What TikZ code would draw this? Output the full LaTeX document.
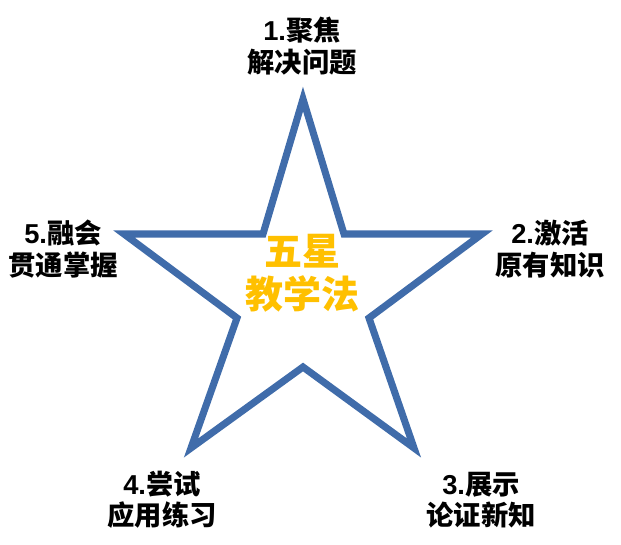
\documentclass[tikz,border=0pt]{standalone}
\usepackage{fontspec}
\setmainfont{Noto Sans CJK SC}
\newfontfamily\latinf{Liberation Sans}
\definecolor{starblue}{RGB}{64,108,170}
\definecolor{stargold}{RGB}{255,192,0}
\tikzset{
  phase/.style={align=center, inner sep=0pt, font=\fontsize{20.5}{23.5}\selectfont\bfseries},
  title/.style={align=center, inner sep=0pt, text=stargold, font=\fontsize{28.5}{32.5}\selectfont\bfseries}
}
\begin{document}
\begin{tikzpicture}[x=0.75pt,y=-0.75pt]
\useasboundingbox (0,0) rectangle (621,544);

% star outline
\draw [starblue, line width=5.3pt, line join=miter]
  (303,99) -- (344,234) -- (482,234) -- (369,318) -- (414,448)
  -- (303,367) -- (191,448) -- (237,318) -- (124,234) -- (263,234) -- cycle;

% centre
\node [title] (centre) at (302,273) {五星\\教学法};

% five steps
\node [phase] (focus)    at (302,46)  {{\latinf\bfseries 1.}聚焦\\解决问题};
\node [phase] (activate) at (550,249) {{\latinf\bfseries 2.}激活\\原有知识};
\node [phase] (show)     at (481,500) {{\latinf\bfseries 3.}展示\\论证新知};
\node [phase] (apply)    at (162,500) {{\latinf\bfseries 4.}尝试\\应用练习};
\node [phase] (merge)    at (63,249)  {{\latinf\bfseries 5.}融会\\贯通掌握};

\end{tikzpicture}
\end{document}
